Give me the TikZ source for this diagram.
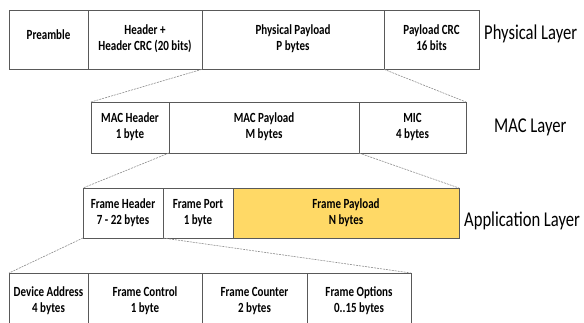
\documentclass[tikz,border=0pt]{standalone}
\usepackage{fontspec}
\usepackage{graphicx}
\setmainfont{Carlito}
\definecolor{boxline}{HTML}{595959}
\definecolor{conn}{HTML}{8C8C8C}
\definecolor{payfill}{HTML}{FFD966}
\newcommand\celltext[1]{\scalebox{1}[1.27]{\begin{tabular}{@{}c@{}}#1\end{tabular}}}
\newcommand\layertext[1]{\scalebox{1}[1.27]{#1}}
\tikzset{
  cell/.style={draw=boxline, line width=0.8pt, outer sep=0pt, inner sep=0pt,
    anchor=north west, font=\bfseries\fontsize{11}{12.6}\selectfont},
  layer/.style={anchor=west, inner sep=0pt, font=\fontsize{16.6}{19}\selectfont},
  link/.style={draw=conn, line width=0.6pt, dash pattern=on 2pt off 1pt}
}
\begin{document}
\begin{tikzpicture}[x=1pt,y=-1pt]
\useasboundingbox (0,0) rectangle (584,322);
\clip (0,0) rectangle (584,322);
% Physical layer
\node[cell, minimum width=79pt, minimum height=59.3pt] (pre) at (9,10) {\raisebox{3.5pt}[\height][\depth]{\celltext{Preamble}}};
\node[cell, minimum width=114pt, minimum height=59.3pt] (hdr) at (88,10) {\celltext{Header +\\Header CRC (20 bits)}};
\node[cell, minimum width=182pt, minimum height=59.3pt] (ppay) at (202,10) {\celltext{Physical Payload\\P bytes}};
\node[cell, minimum width=95pt, minimum height=59.3pt] (pcrc) at (384,10) {\celltext{Payload CRC\\16 bits}};
\node[layer] (lphy) at (484,34) {\layertext{Physical Layer}};
% MAC layer
\node[cell, minimum width=78pt, minimum height=51pt] (mh) at (91,102) {\celltext{MAC Header\\1 byte}};
\node[cell, minimum width=190pt, minimum height=51pt] (mp) at (169,102) {\celltext{MAC Payload\\M bytes}};
\node[cell, minimum width=107pt, minimum height=51pt] (mic) at (359,102) {\celltext{MIC\\4 bytes}};
\node[layer] (lmac) at (494,127.5) {\layertext{MAC Layer}};
% Application layer
\node[cell, minimum width=80pt, minimum height=50pt] (fh) at (83,188) {\celltext{Frame Header\\7 - 22 bytes}};
\node[cell, minimum width=70pt, minimum height=50pt] (fp) at (163,188) {\celltext{Frame Port\\1 byte}};
\node[cell, fill=payfill, minimum width=226pt, minimum height=50pt] (fpay) at (233,188) {\celltext{Frame Payload\\N bytes}};
\node[layer] (lapp) at (464,220.5) {\layertext{Application Layer}};
% Frame header detail
\node[cell, minimum width=79pt, minimum height=57pt] (da) at (9,273) {\celltext{Device Address\\4 bytes}};
\node[cell, minimum width=114pt, minimum height=57pt] (fc) at (88,273) {\celltext{Frame Control\\1 byte}};
\node[cell, minimum width=105pt, minimum height=57pt] (fcnt) at (202,273) {\celltext{Frame Counter\\2 bytes}};
\node[cell, minimum width=104pt, minimum height=57pt] (fo) at (307,273) {\celltext{Frame Options\\0..15 bytes}};
% connectors
\draw[link] (hdr.south east) -- (mh.north west);
\draw[link] (pcrc.south west) -- (mic.north east);
\draw[link] (mh.south east) -- (fh.north west);
\draw[link] (mic.south west) -- (fpay.north east);
\draw[link] (fh.south west) -- (da.north west);
\draw[link] (fh.south east) -- (fo.north east);
\end{tikzpicture}
\end{document}
